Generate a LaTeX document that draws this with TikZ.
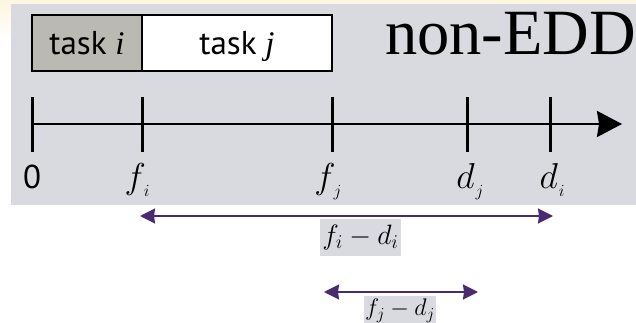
\RequirePackage{fix-cm}
\documentclass[tikz,border=0pt]{standalone}
\usepackage{fontspec}
\setmainfont{Liberation Serif}
\setsansfont{PT Sans}
\usetikzlibrary{arrows.meta}
\definecolor{bggray}{HTML}{D9DAE0}
\definecolor{taskgray}{HTML}{BABAB3}
\definecolor{cream}{HTML}{FDF6E1}
\definecolor{tpurple}{HTML}{4A2A70}
\newcommand\tlab[3]{$#1$\kern#3\raisebox{-8pt}{\fontsize{17}{17}\selectfont$#2$}}
\tikzset{
  taskbox/.style={draw=black, line width=2.5pt, minimum height=56pt, inner sep=0pt,
    font=\sffamily\fontsize{33}{35}\selectfont, text height=24pt, text depth=0pt},
  axisline/.style={line width=2.5pt, -{Stealth[length=25pt,width=26pt,inset=2pt]}},
  tickmark/.style={line width=3pt},
  ticklabel/.style={anchor=base, inner sep=0pt, font=\fontsize{36}{38}\selectfont},
  spanarrow/.style={tpurple, line width=1.8pt, {Stealth[length=15pt,width=15pt,inset=1pt]}-{Stealth[length=15pt,width=15pt,inset=1pt]}},
  spanlabel/.style={fill=bggray, inner sep=0pt}
}
\begin{document}
\begin{tikzpicture}[x=1pt,y=-1pt]
\useasboundingbox (0,0) rectangle (636,323);
\fill[white] (0,0) rectangle (636,323);
\fill[cream] (0,0) rectangle (636,4);
\shade[top color=cream, bottom color=white] (0,4) rectangle (11,40);
\fill[bggray] (11,4) rectangle (636,205);

% task boxes
\node[taskbox, fill=taskgray, minimum width=110pt] (ti) at (87,43) {task {\rmfamily\itshape i}};
\node[taskbox, fill=white, minimum width=190pt] (tj) at (237,43) {task {\rmfamily\itshape j}};

% title
\node[anchor=base west, inner sep=0pt, font=\rmfamily\fontsize{64.5}{66}\selectfont] (title) at (385,55) {non-EDD};

% axis
\coordinate (t0) at (32,124);
\coordinate (tfi) at (142,124);
\coordinate (tfj) at (332,124);
\coordinate (tdj) at (467,124);
\coordinate (tdi) at (550,124);
\coordinate (tip) at (622,124);
\draw[axisline] (t0) -- (tip);
\foreach \c in {t0,tfi,tfj,tdj,tdi}
  \draw[tickmark] ([yshift=27pt]\c) -- ([yshift=-28pt]\c);

% tick labels
\node[ticklabel, font=\sffamily\fontsize{33}{35}\selectfont] (l0) at (32,188) {0};
\node[ticklabel] (lfi) at (137,188) {\tlab{f}{i}{-2pt}};
\node[ticklabel] (lfj) at (328,188) {\tlab{f}{j}{-2pt}};
\node[ticklabel] (ldj) at (470,188) {\tlab{d}{j}{1pt}};
\node[ticklabel] (ldi) at (552,188) {\tlab{d}{i}{1pt}};

% span arrows
\coordinate (a1) at (140,216);
\coordinate (b1) at (553,216);
\draw[spanarrow] (a1) -- (b1);
\node[spanlabel, minimum width=81pt, minimum height=37pt, font=\fontsize{28}{30}\selectfont] (s1) at (360.5,237.5) {$f_i - d_i$};

\coordinate (a2) at (324,292);
\coordinate (b2) at (478,292);
\draw[spanarrow] (a2) -- (b2);
\node[spanlabel, minimum width=72pt, minimum height=30pt, font=\fontsize{24}{26}\selectfont] (s2) at (400,311) {$f_j - d_j$};
\end{tikzpicture}
\end{document}
